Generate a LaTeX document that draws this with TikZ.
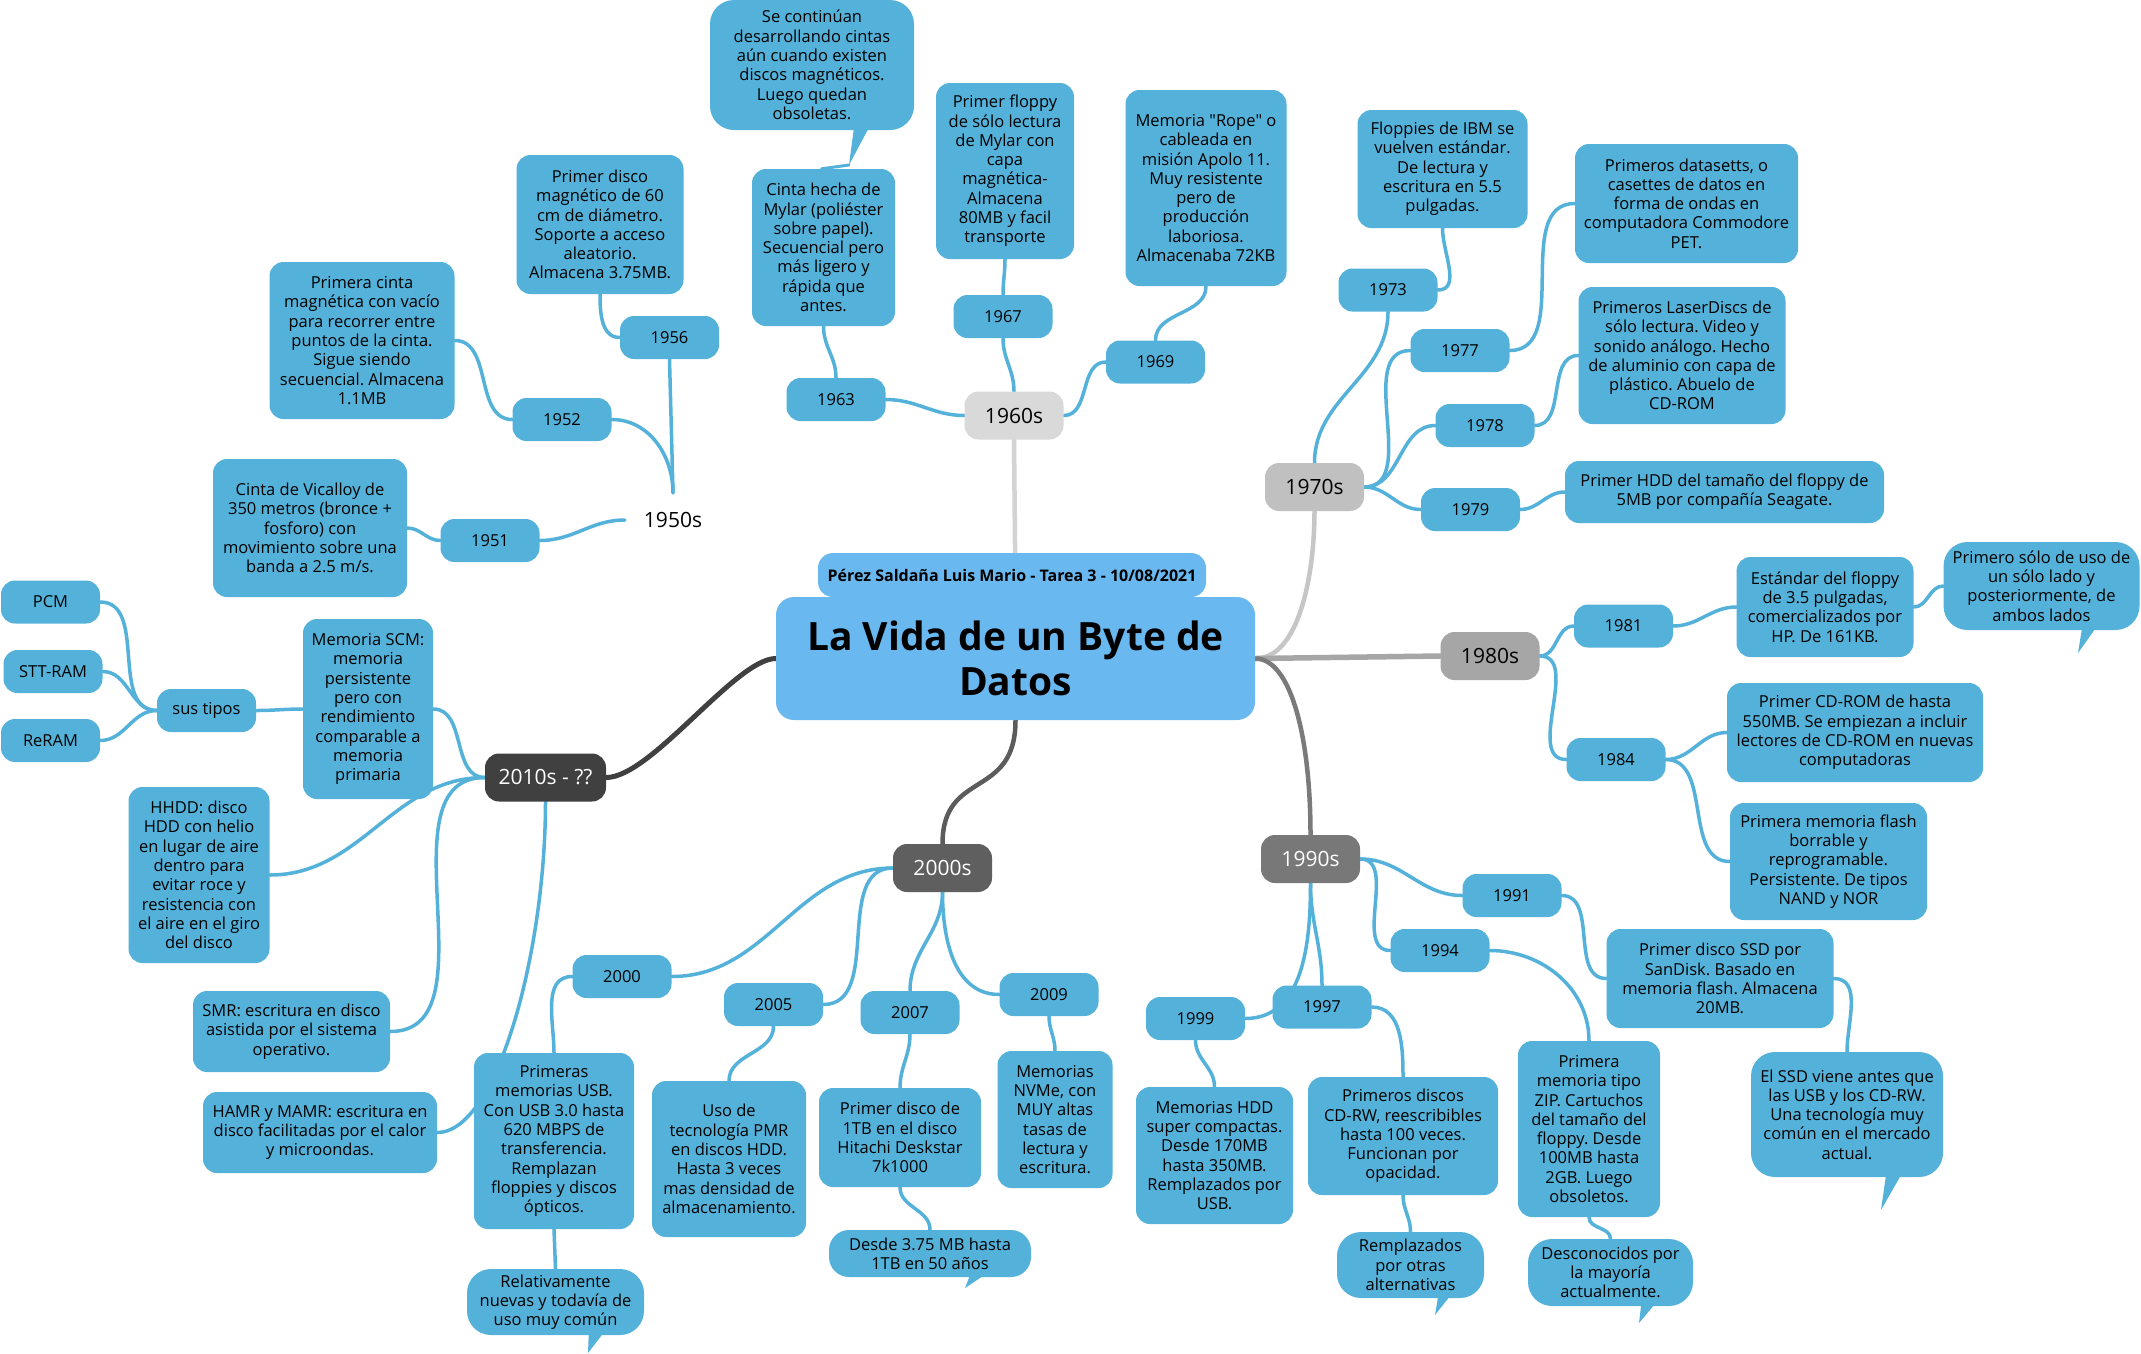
\documentclass[tikz,border=0pt]{standalone}
\usepackage{fontspec}
\setmainfont{Open Sans}
\newfontfamily\plainos{Open Sans}
\usetikzlibrary{backgrounds}
\frenchspacing
\definecolor{leafc}{RGB}{84,178,218}
\definecolor{titlec}{RGB}{106,184,240}
\definecolor{gA}{RGB}{217,217,217}
\definecolor{gB}{RGB}{192,192,192}
\definecolor{gC}{RGB}{166,166,166}
\definecolor{gD}{RGB}{120,120,120}
\definecolor{gE}{RGB}{95,95,95}
\definecolor{gF}{RGB}{64,64,64}
\definecolor{lA}{RGB}{211,211,211}
\definecolor{lB}{RGB}{198,198,198}
\definecolor{lC}{RGB}{166,166,166}
\definecolor{lD}{RGB}{122,122,122}
\definecolor{lE}{RGB}{92,92,92}
\definecolor{lF}{RGB}{64,64,64}
\newcommand{\bodyfs}{\fontsize{16.5}{19.3}\selectfont\frenchspacing}
\newcommand{\decfs}{\fontsize{21}{25}\selectfont}
\newcommand{\titlefs}{\fontsize{39}{44.5}\selectfont\bfseries}
\newcommand{\subfs}{\fontsize{16}{19}\selectfont\bfseries}
\newcommand{\sq}{{\plainos"}}
\tikzset{
  leaf/.style={fill=leafc, rounded corners=14pt, inner sep=1pt, align=center, font=\bodyfs, text=black},
  yr/.style={leaf, minimum width=99pt, minimum height=43pt},
  callout/.style={leaf, rounded corners=24pt},
  dec/.style={rounded corners=14pt, inner sep=1pt, minimum width=99pt, minimum height=48pt, font=\decfs, text=black},
  conn/.style={draw=leafc, line width=3.5pt, line cap=round},
  mainconn/.style={line width=4.5pt, line cap=round},
}
\begin{document}
\begin{tikzpicture}[x=1pt,y=-1pt]
\useasboundingbox (0,0) rectangle (2141,1353);

% ---------- central ----------
\node[fill=titlec, rounded corners=15pt, minimum width=388pt, minimum height=44pt, inner sep=1pt, font=\subfs] (sub) at (1012,575) {Pérez Saldaña Luis Mario - Tarea 3 - 10/08/2021};
\node[fill=titlec, rounded corners=18pt, minimum width=479pt, minimum height=123pt, inner sep=1pt, align=center, font=\titlefs] (title) at (1015.5,658.5) {La Vida de un Byte de\\Datos};

% ---------- decades ----------
\node[font=\decfs, minimum width=96pt, minimum height=54pt, inner sep=0pt] (d50) at (673,520) {1950s};
\node[dec, fill=gA] (d60) at (1014,415.5) {1960s};
\node[dec, fill=gB] (d70) at (1314.5,487) {1970s};
\node[dec, fill=gC] (d80) at (1490,656) {1980s};
\node[dec, fill=gD, text=white] (d90) at (1310.5,859) {1990s};
\node[dec, fill=gE, text=white] (d00) at (942.5,868) {2000s};
\node[dec, fill=gF, text=white, minimum width=121pt] (d10) at (545.5,777.5) {2010s - ??};

% ---------- years ----------
\node[yr] (y56) at (669.5,337.5) {1956};
\node[yr] (y52) at (562,419.5) {1952};
\node[yr] (y51) at (490,540.5) {1951};
\node[yr] (y63) at (836,399.5) {1963};
\node[yr] (y67) at (1003,316.5) {1967};
\node[yr] (y69) at (1155.5,362) {1969};
\node[yr] (y73) at (1388,290) {1973};
\node[yr] (y77) at (1460,350.5) {1977};
\node[yr] (y78) at (1485,425.5) {1978};
\node[yr] (y79) at (1470.5,509.5) {1979};
\node[yr] (y81) at (1623.5,626) {1981};
\node[yr] (y84) at (1616,759.5) {1984};
\node[yr] (y91) at (1512,895.5) {1991};
\node[yr] (y94) at (1440,950.5) {1994};
\node[yr] (y97) at (1322,1007) {1997};
\node[yr] (y99) at (1195.5,1018.5) {1999};
\node[yr] (y00) at (622,976.5) {2000};
\node[yr] (y05) at (773.5,1004.5) {2005};
\node[yr] (y07) at (910,1012.5) {2007};
\node[yr] (y09) at (1049,994.5) {2009};
\node[yr] (pcm) at (50.5,602) {PCM};
\node[yr] (stt) at (53,671.5) {STT-RAM};
\node[yr] (rer) at (50.5,740.5) {ReRAM};
\node[yr] (sus) at (206.5,710.5) {sus tipos};

% ---------- 1950s leaves ----------
\node[leaf, minimum width=167pt, minimum height=139pt] (a56) at (600,224.5) {Primer disco\\magnético de 60\\cm de diámetro.\\Soporte a acceso\\aleatorio.\\Almacena 3.75MB.};
\node[leaf, minimum width=185pt, minimum height=157pt] (a52) at (362,340.5) {Primera cinta\\magnética con vacío\\para recorrer entre\\puntos de la cinta.\\Sigue siendo\\secuencial. Almacena\\1.1MB};
\node[leaf, minimum width=194pt, minimum height=138pt] (a51) at (310,528) {Cinta de Vicalloy de\\350 metros (bronce +\\fosforo) con\\movimiento sobre una\\banda a 2.5 m/s.};

% ---------- 1960s leaves ----------
\node[callout, minimum width=204pt, minimum height=130pt] (c60) at (812,65) {Se continúan\\desarrollando cintas\\aún cuando existen\\discos magnéticos.\\Luego quedan\\obsoletas.};
\node[leaf, minimum width=143pt, minimum height=157pt] (b63) at (823.5,247.5) {Cinta hecha de\\Mylar (poliéster\\sobre papel).\\Secuencial pero\\más ligero y\\rápida que\\antes.};
\node[leaf, minimum width=138pt, minimum height=176pt] (b67) at (1005,171) {Primer floppy\\de sólo lectura\\de Mylar con\\capa\\magnética-\\Almacena\\80MB y facil\\transporte};
\node[leaf, minimum width=161pt, minimum height=196pt] (b69) at (1206,188) {Memoria \sq Rope\sq{} o\\cableada en\\misión Apolo 11.\\Muy resistente\\pero de\\producción\\laboriosa.\\Almacenaba 72KB};

% ---------- 1970s leaves ----------
\node[leaf, minimum width=170pt, minimum height=118pt] (t73) at (1442.5,169) {Floppies de IBM se\\vuelven estándar.\\De lectura y\\escritura en 5.5\\pulgadas.};
\node[leaf, minimum width=223pt, minimum height=119pt] (t77) at (1686.5,203.5) {Primeros datasetts, o\\casettes de datos en\\forma de ondas en\\computadora Commodore\\PET.};
\node[leaf, minimum width=207pt, minimum height=137pt] (t78) at (1682,355.5) {Primeros LaserDiscs de\\sólo lectura. Video y\\sonido análogo. Hecho\\de aluminio con capa de\\plástico. Abuelo de\\CD-ROM};
\node[leaf, minimum width=319pt, minimum height=62pt] (t79) at (1724.5,492) {Primer HDD del tamaño del floppy de\\5MB por compañía Seagate.};

% ---------- 1980s leaves ----------
\node[leaf, minimum width=177pt, minimum height=100pt] (e81) at (1825,607) {Estándar del floppy\\de 3.5 pulgadas,\\comercializados por\\HP. De 161KB.};
\node[callout, minimum width=196pt, minimum height=88pt] (c81) at (2041.5,586) {Primero sólo de uso de\\un sólo lado y\\posteriormente, de\\ambos lados};
\node[leaf, minimum width=256pt, minimum height=99pt] (e84a) at (1855,732.5) {Primer CD-ROM de hasta\\550MB. Se empiezan a incluir\\lectores de CD-ROM en nuevas\\computadoras};
\node[leaf, minimum width=197pt, minimum height=117pt] (e84b) at (1828.5,861.5) {Primera memoria flash\\borrable y\\reprogramable.\\Persistente. De tipos\\NAND y NOR};

% ---------- 1990s leaves ----------
\node[leaf, minimum width=227pt, minimum height=99pt] (f91) at (1720,978.5) {Primer disco SSD por\\SanDisk. Basado en\\memoria flash. Almacena\\20MB.};
\node[callout, minimum width=192pt, minimum height=125pt] (c91) at (1847,1114.5) {El SSD viene antes que\\las USB y los CD-RW.\\Una tecnología muy\\común en el mercado\\actual.};
\node[leaf, minimum width=142pt, minimum height=176pt] (f94) at (1589,1129) {Primera\\memoria tipo\\ZIP. Cartuchos\\del tamaño del\\floppy. Desde\\100MB hasta\\2GB. Luego\\obsoletos.};
\node[callout, minimum width=165pt, minimum height=67pt] (c94) at (1610.5,1272.5) {Desconocidos por\\la mayoría\\actualmente.};
\node[leaf, minimum width=190pt, minimum height=118pt] (f97) at (1403,1136) {Primeros discos\\CD-RW, reescribibles\\hasta 100 veces.\\Funcionan por\\opacidad.};
\node[callout, minimum width=147pt, minimum height=66pt] (c97) at (1410.5,1265) {Remplazados\\por otras\\alternativas};
\node[leaf, minimum width=157pt, minimum height=137pt] (f99) at (1214.5,1155.5) {Memorias HDD\\super compactas.\\Desde 170MB\\hasta 350MB.\\Remplazados por\\USB.};

% ---------- 2000s leaves ----------
\node[leaf, minimum width=160pt, minimum height=176pt] (g00) at (554,1141) {Primeras\\memorias USB.\\Con USB 3.0 hasta\\620 MBPS de\\transferencia.\\Remplazan\\floppies y discos\\ópticos.};
\node[callout, minimum width=177pt, minimum height=66pt] (c00) at (555.5,1302) {Relativamente\\nuevas y todavía de\\uso muy común};
\node[leaf, minimum width=154pt, minimum height=156pt] (g05) at (729,1159) {Uso de\\tecnología PMR\\en discos HDD.\\Hasta 3 veces\\mas densidad de\\almacenamiento.};
\node[leaf, minimum width=162pt, minimum height=99pt] (g07) at (900,1137.5) {Primer disco de\\1TB en el disco\\Hitachi Deskstar\\7k1000};
\node[callout, rounded corners=20pt, minimum width=202pt, minimum height=47pt] (c07) at (930,1253.5) {Desde 3.75 MB hasta\\1TB en 50 años};
\node[leaf, minimum width=115pt, minimum height=137pt] (g09) at (1055,1119.5) {Memorias\\NVMe, con\\MUY altas\\tasas de\\lectura y\\escritura.};

% ---------- 2010s leaves ----------
\node[leaf, minimum width=130pt, minimum height=180pt] (h1) at (368,709) {Memoria SCM:\\memoria\\persistente\\pero con\\rendimiento\\comparable a\\memoria\\primaria};
\node[leaf, minimum width=141pt, minimum height=176pt] (h2) at (199,875) {HHDD: disco\\HDD con helio\\en lugar de aire\\dentro para\\evitar roce y\\resistencia con\\el aire en el giro\\del disco};
\node[leaf, minimum width=197pt, minimum height=81pt] (h3) at (291.5,1031.5) {SMR: escritura en disco\\asistida por el sistema\\operativo.};
\node[leaf, minimum width=234pt, minimum height=81pt] (h4) at (320,1132.5) {HAMR y MAMR: escritura en\\disco facilitadas por el calor\\y microondas.};

% ---------- callout tails ----------
\fill[leafc] (855,120) -- (849,165) -- (873,120) -- cycle;
\fill[leafc] (2083,622) -- (2078,653) -- (2100,622) -- cycle;
\fill[leafc] (1887,1168) -- (1881,1210) -- (1905,1168) -- cycle;
\fill[leafc] (1642,1298) -- (1639,1323) -- (1660,1298) -- cycle;
\fill[leafc] (1439,1291) -- (1435,1315) -- (1454,1291) -- cycle;
\fill[leafc] (589,1327) -- (588,1353) -- (608,1327) -- cycle;
\fill[leafc] (972,1270) -- (965,1288) -- (992,1270) -- cycle;
\coordinate (t60) at (849,165);

% ---------- connectors ----------
\begin{pgfonlayer}{background}
\fill[white] (0,0) rectangle (2141,1353);
% central
\draw[mainconn, draw=lA] (title.north) -- (d60.south);
\draw[mainconn, draw=lB] (title.east) .. controls +(45,0) and +(0,60) .. (d70.south);
\draw[mainconn, draw=lC, line width=5.5pt] (title.east) -- (d80.west);
\draw[mainconn, draw=lD] (title.east) .. controls +(35,0) and +(0,-100) .. (d90.north);
\draw[mainconn, draw=lE] (title.south) .. controls +(0,80) and +(0,-75) .. (d00.north);
\draw[mainconn, draw=lF, line width=5pt] (title.west) .. controls +(-40,0) and +(45,0) .. (d10.east);
% 1950s
\draw[conn] (d50.north) -- (y56.south);
\draw[conn] (d50.north) to[out=90,in=0] (y52.east);
\draw[conn] (d50.west) to[out=180,in=0] (y51.east);
\draw[conn] (a56.south) to[out=-90,in=180] (y56.west);
\draw[conn] (a52.east) to[out=0,in=180] (y52.west);
\draw[conn] (a51.east) to[out=0,in=180] (y51.west);
% 1960s
\draw[conn] (d60.west) to[out=180,in=0] (y63.east);
\draw[conn] (d60.north) to[out=90,in=-90] (y67.south);
\draw[conn] (d60.east) to[out=0,in=180] (y69.west);
\draw[conn] (b63.south) to[out=-90,in=90] (y63.north);
\draw[conn] (b67.south) to[out=-90,in=90] (y67.north);
\draw[conn] (b69.south) to[out=-90,in=90] (y69.north);
\draw[conn, line width=3pt] ([xshift=-2pt]b63.north) -- (t60);
% 1970s
\draw[conn] (d70.north) to[out=90,in=-90] (y73.south);
\draw[conn] (d70.east) to[out=0,in=180] (y77.west);
\draw[conn] (d70.east) to[out=0,in=180] (y78.west);
\draw[conn] (d70.east) to[out=0,in=180] (y79.west);
\draw[conn] (t73.south) to[out=-90,in=0] (y73.east);
\draw[conn] (y77.east) to[out=0,in=180] (t77.west);
\draw[conn] (y78.east) to[out=0,in=180] (t78.west);
\draw[conn] (y79.east) to[out=0,in=180] (t79.west);
% 1980s
\draw[conn] (d80.east) to[out=0,in=180] (y81.west);
\draw[conn] (d80.east) to[out=0,in=180] (y84.west);
\draw[conn] (y81.east) to[out=0,in=180] (e81.west);
\draw[conn] (e81.east) to[out=0,in=180] (c81.west);
\draw[conn] (y84.east) to[out=0,in=180] (e84a.west);
\draw[conn] (y84.east) to[out=0,in=180] (e84b.west);
% 1990s
\draw[conn] (d90.east) to[out=0,in=180] (y91.west);
\draw[conn] (d90.east) to[out=0,in=180] (y94.west);
\draw[conn] (d90.south) to[out=-90,in=90] (y97.north);
\draw[conn] (d90.south) to[out=-90,in=0] (y99.east);
\draw[conn] (y91.east) to[out=0,in=180] (f91.west);
\draw[conn] (f91.east) to[out=0,in=90] (c91.north);
\draw[conn] (y94.east) to[out=0,in=90] (f94.north);
\draw[conn] (f94.south) to[out=-90,in=90] (c94.north);
\draw[conn] (y97.east) to[out=0,in=90] (f97.north);
\draw[conn] (f97.south) to[out=-90,in=90] (c97.north);
\draw[conn] (y99.south) to[out=-90,in=90] (f99.north);
% 2000s
\draw[conn] (d00.west) to[out=180,in=0] (y00.east);
\draw[conn] (d00.west) to[out=180,in=0] (y05.east);
\draw[conn] (d00.south) to[out=-90,in=90] (y07.north);
\draw[conn] (d00.south) to[out=-90,in=180] (y09.west);
\draw[conn] (y00.west) to[out=180,in=90] (g00.north);
\draw[conn] (g00.south) -- (c00.north);
\draw[conn] (y05.south) to[out=-90,in=90] (g05.north);
\draw[conn] (y07.south) to[out=-90,in=90] (g07.north);
\draw[conn] (g07.south) to[out=-90,in=90] (c07.north);
\draw[conn] (y09.south) to[out=-90,in=90] (g09.north);
% 2010s
\draw[conn] (d10.west) to[out=180,in=0] (h1.east);
\draw[conn] (d10.west) to[out=180,in=0] (h2.east);
\draw[conn] (d10.west) to[out=180,in=0] (h3.east);
\draw[conn] (d10.south) .. controls +(0,150) and +(60,0) .. (h4.east);
\draw[conn] (h1.west) to[out=180,in=0] (sus.east);
\draw[conn] (sus.west) to[out=180,in=0] (pcm.east);
\draw[conn] (sus.west) to[out=180,in=0] (stt.east);
\draw[conn] (sus.west) to[out=180,in=0] (rer.east);
\end{pgfonlayer}
\end{tikzpicture}
\end{document}
